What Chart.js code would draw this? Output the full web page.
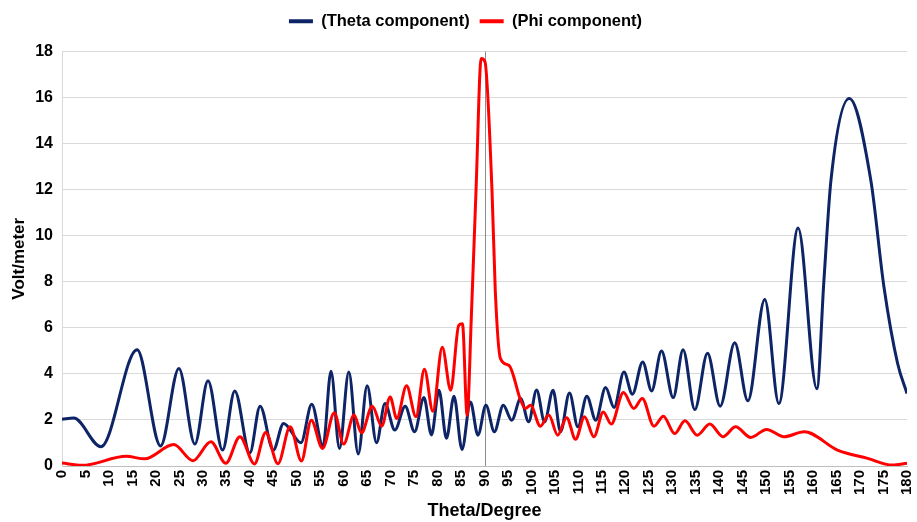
<!DOCTYPE html>
<html>
<head>
<meta charset="utf-8">
<title>Theta / Phi components</title>
<script src="https://cdn.jsdelivr.net/npm/chart.js"></script>
<style>
    html, body { margin: 0; padding: 0; background: #ffffff; }
    #grafico { display: block; }
</style>
</head>
<body>
<canvas id="grafico" width="917" height="522"></canvas>
<script>
// angulos (graus) e valores - so os picos e vales de cada curva
const thetaDeg = [0, 2.5, 8.3, 16, 21, 24.9, 28.3, 31.1, 34.2, 36.8, 40, 42.2, 45, 47.2, 50.9, 53.2, 55.6, 57.3, 59.1, 61.1,
    63.1, 65, 67, 68.8, 70.9, 73.1, 75.1, 77.1, 78.7, 80.3, 81.9, 83.5, 85.2, 87, 88.6, 90.3, 92.1, 94, 95.8, 97.7,
    99.4, 101.1, 102.8, 104.6, 106.2, 108.1, 109.9, 111.8, 113.7, 115.8, 117.6, 119.7, 121.5, 123.7, 125.6, 127.7,
    130.2, 132.3, 134.8, 137.5, 140.2, 143.3, 146.1, 149.7, 152.7, 156.8, 160.8, 162.3, 163.8, 167.7, 172.3, 175.1, 178, 180];
const thetaVal = [2.03, 2.08, 0.84, 5.05, 0.87, 4.23, 0.95, 3.7, 0.69, 3.26, 0.56, 2.6, 0.69, 1.85, 1.01, 2.68, 0.84, 4.11, 0.76, 4.08,
    0.52, 3.48, 1.01, 2.71, 1.56, 2.6, 1.49, 2.97, 1.35, 3.29, 1.2, 3.03, 0.72, 2.78, 1.34, 2.64, 1.49, 2.64, 1.99, 2.93,
    1.92, 3.3, 1.92, 3.29, 1.49, 3.17, 1.7, 3.03, 1.99, 3.41, 2.54, 4.08, 3.12, 4.52, 3.26, 4.99,
    2.97, 5.05, 2.45, 4.9, 2.6, 5.35, 2.83, 7.23, 2.71, 10.33, 3.36, 8.05, 12.4, 15.96, 12.4, 7.76, 4.45, 3.15];

const phiDeg = [0, 4.3, 13.7, 17.6, 23.8, 27.9, 31.7, 34.9, 37.9, 41, 43.4, 46, 48.6, 51, 53.1, 55.5, 58, 60, 62.2, 63.8,
    66.1, 68.1, 69.9, 71.3, 73.4, 75.4, 77.2, 79, 81, 82.8, 84.5, 85.3, 86.3, 87.2, 88.2, 89.3, 90.1, 91.6, 92.3, 93.4,
    95.2, 97.7, 98.7, 99.8, 101.9, 103.7, 105.6, 107.5, 109.4, 111.3, 113.3, 115.3, 117, 119.6, 121.8, 123.6, 126.1,
    128.1, 130.5, 132.7, 135.3, 138, 140.8, 143.5, 146.7, 150.1, 153.8, 158.1, 165.2, 171.6, 176.9, 180];
const phiVal = [0.13, 0.03, 0.42, 0.31, 0.93, 0.23, 1.05, 0.12, 1.27, 0.09, 1.46, 0.1, 1.7, 0.22, 1.99, 0.76, 2.31, 0.95, 2.21, 1.44,
    2.6, 1.73, 3.0, 2.06, 3.48, 2.14, 4.2, 2.38, 5.16, 3.29, 6.1, 6.18, 2.2, 6.5, 12, 17.7, 17.55, 11.95, 7.6, 4.66,
    4.37, 2.86, 2.5, 2.64, 1.73, 2.21, 1.34, 2.1, 1.16, 2.14, 1.27, 2.35, 1.82, 3.19, 2.5, 2.93, 1.73,
    2.16, 1.41, 1.96, 1.34, 1.82, 1.27, 1.7, 1.24, 1.59, 1.27, 1.49, 0.69, 0.33, 0.04, 0.12];

// eixos
const yTicksMax = 18;
const yStep = 2;
const xMin = 0;
const xMax = 180;
const xStep = 5;
const linhaVertical = 90; // linha cinza do eixo no meio

const fonte = "'Liberation Sans Narrow', 'Liberation Sans', Arial, sans-serif";

// junta x e y em pontos
function pontos(xs, ys) {
    return xs.map(function (x, i) { return { x: x, y: ys[i] }; });
}

// plugin simples pra desenhar a linha vertical em 90 graus
const linhaPlugin = {
    id: 'linha90',
    beforeDatasetsDraw: function (chart) {
        const ctx = chart.ctx;
        const xs = chart.scales.x;
        const area = chart.chartArea;
        const px = Math.round(xs.getPixelForValue(linhaVertical)) + 0.5;
        ctx.save();
        ctx.strokeStyle = '#8c8c8c';
        ctx.lineWidth = 1;
        ctx.beginPath();
        ctx.moveTo(px, area.top);
        ctx.lineTo(px, area.bottom);
        ctx.stroke();
        ctx.restore();
    }
};

// um pouco mais de espaco embaixo da legenda e legenda meio pra direita
const espacoLegenda = {
    id: 'espacoLegenda',
    beforeLayout: function (chart) {
        const leg = chart.legend;
        if (leg && !leg._ajustado) {
            const fitOrig = leg.fit;
            leg.fit = function () {
                fitOrig.call(this);
                this.height += 12;
            };
            leg._ajustado = true;
        }
    },
    afterLayout: function (chart) {
        const leg = chart.legend;
        if (leg) {
            leg.left += 12;
            leg.right += 12;
        }
    }
};

const ctx = document.getElementById('grafico');
const myChart = new Chart(ctx, {
    type: 'line',
    data: {
        datasets: [{
            label: '(Theta component)',
            data: pontos(thetaDeg, thetaVal),
            borderColor: '#0d2466',
            backgroundColor: '#0d2466',
            borderWidth: 3,
            pointRadius: 0,
            cubicInterpolationMode: 'monotone',
            order: 2
        }, {
            label: '(Phi component)',
            data: pontos(phiDeg, phiVal),
            borderColor: '#ff0000',
            backgroundColor: '#ff0000',
            borderWidth: 3,
            pointRadius: 0,
            cubicInterpolationMode: 'monotone',
            order: 1
        }]
    },
    options: {
        responsive: false,
        animation: false,
        devicePixelRatio: 1,
        layout: { padding: { top: 3, right: 10, bottom: 0, left: 0 } },
        plugins: {
            tooltip: { enabled: false },
            legend: {
                position: 'top',
                labels: {
                    usePointStyle: true,
                    pointStyle: 'line',
                    pointStyleWidth: 24,
                    boxHeight: 4,
                    padding: 10,
                    color: '#000',
                    font: { family: fonte, size: 16.5, weight: 'bold' },
                    sort: function (a, b) { return a.datasetIndex - b.datasetIndex; },
                    generateLabels: function (chart) {
                        const itens = Chart.defaults.plugins.legend.labels.generateLabels(chart);
                        itens.forEach(function (it) { it.lineWidth = 4; });
                        return itens;
                    }
                }
            }
        },
        scales: {
            x: {
                type: 'linear',
                min: xMin,
                max: xMax,
                grid: { display: false, drawTicks: false },
                border: { display: true, color: '#bfbfbf' },
                ticks: {
                    stepSize: xStep,
                    autoSkip: false,
                    maxRotation: 90,
                    minRotation: 90,
                    padding: 4,
                    color: '#000',
                    font: { family: fonte, size: 15, weight: 'bold' }
                },
                title: {
                    display: true,
                    text: 'Theta/Degree',
                    color: '#000',
                    padding: { top: 6, bottom: 0 },
                    font: { family: fonte, size: 18, weight: 'bold' }
                },
                afterFit: function (scale) {
                    scale.height = 56;
                    scale.paddingLeft = 0;
                    scale.paddingRight = 0;
                }
            },
            y: {
                min: 0,
                max: yTicksMax,
                grid: { color: '#d9d9d9', drawTicks: false },
                border: { display: true, color: '#d9d9d9' },
                ticks: {
                    stepSize: yStep,
                    padding: 9,
                    color: '#000',
                    font: { family: fonte, size: 16, weight: 'bold' }
                },
                title: {
                    display: true,
                    text: 'Volt/meter',
                    color: '#000',
                    padding: { top: 9, bottom: 0 },
                    font: { family: fonte, size: 17, weight: 'bold' }
                },
                afterFit: function (scale) { scale.width = 62; }
            }
        }
    },
    plugins: [linhaPlugin, espacoLegenda]
});
</script>
</body>
</html>
